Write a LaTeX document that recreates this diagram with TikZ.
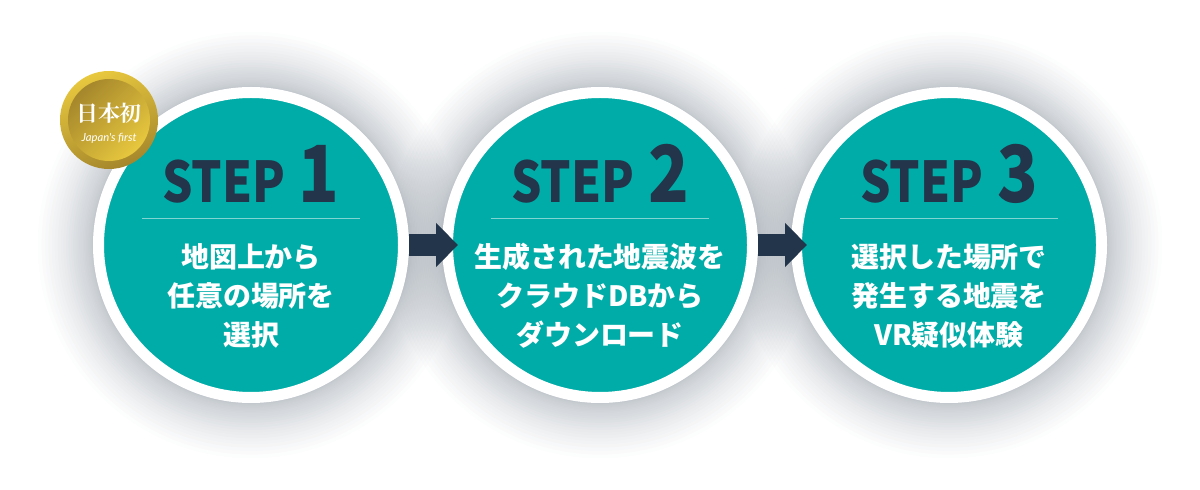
\documentclass[tikz,border=0pt]{standalone}
\usepackage{fontspec}
\setmainfont{Noto Sans CJK JP}
\newfontfamily\serifjp{Noto Serif CJK JP}
\newfontfamily\badgelatin{Lato}
\newfontfamily\titlefont[FakeStretch=0.85]{Noto Sans CJK JP}
\usepackage{tikz}
\usetikzlibrary{positioning,arrows.meta,backgrounds}
\definecolor{stepteal}{HTML}{00ACA8}
\definecolor{stepnavy}{HTML}{22354A}
\definecolor{goldlight}{HTML}{E8C83E}
\definecolor{golddark}{HTML}{A5872C}
\newcommand \stepnum[1] {\hspace{2pt}{\fontsize{56}{56}\selectfont #1}}

\begin{document}
\begin{tikzpicture}[
	stepcircle/.style={draw=white, fill=stepteal, circle, line width=.275cm, minimum size=7.625cm},
	steptitle/.style={anchor=base, text=stepnavy, font=\titlefont\bfseries\fontsize{40}{40}\selectfont},
	steptext/.style={align=center, text=white, font=\bfseries\fontsize{19.9}{27.8}\selectfont},
	steprule/.style={draw=white!50!stepteal, line width=.5pt},
	steparrow/.style={draw=stepnavy, line width=.55cm, shorten >=-.4cm,
		-{Triangle[length=.55cm, width=1.07cm]}},
	halo/.style={fill=stepnavy, opacity=.0115, circle}]
	\useasboundingbox (0,0) rectangle (30,-12.25);
	% Circles
	\node [stepcircle] (step1) at (6.275,-6.125) {};
	\node [stepcircle, right=.825cm of step1] (step2) {};
	\node [stepcircle, right=.825cm of step2] (step3) {};
	% Shadows
	\begin{pgfonlayer}{background}
		\foreach \name in {step1,step2,step3}
			\foreach \t in {1,...,30}
				\node [halo, minimum size={(7.9+.00306*\t*\t)*1cm}] at (\name.center) {};
	\end{pgfonlayer}
	% Titles
	\node [steptitle] (title1) at ([yshift=1.05cm]step1.center) {STEP \stepnum{1}};
	\node [steptitle] (title2) at ([yshift=1.05cm]step2.center) {STEP \stepnum{2}};
	\node [steptitle] (title3) at ([yshift=1.05cm]step3.center) {STEP \stepnum{3}};
	% Rules
	\draw [steprule] ([shift={(-2.725,.675)}]step1.center) coordinate (r1a) -- ([shift={(2.725,.675)}]step1.center) coordinate (r1b);
	\draw [steprule] ([shift={(-2.725,.675)}]step2.center) coordinate (r2a) -- ([shift={(2.725,.675)}]step2.center) coordinate (r2b);
	\draw [steprule] ([shift={(-2.725,.675)}]step3.center) coordinate (r3a) -- ([shift={(2.725,.675)}]step3.center) coordinate (r3b);
	% Texts
	\node [steptext] (text1) at ([yshift=-1.275cm]step1.center) {地図上から\\任意の場所を\\選択};
	\node [steptext] (text2) at ([yshift=-1.275cm]step2.center) {生成された地震波を\\クラウドDBから\\ダウンロード};
	\node [steptext] (text3) at ([yshift=-1.275cm]step3.center) {選択した場所で\\発生する地震を\\VR疑似体験};
	% Arrows
	\draw [steparrow] (step1) -- (step2);
	\draw [steparrow] (step2) -- (step3);
	% Badge
	\node [circle, minimum size=2.45cm, inner sep=0pt, top color=goldlight, bottom color=golddark,
		shading angle=20] (badge) at ([shift={(-3.55,3.125)}]step1.center) {};
	\node [circle, minimum size=2.05cm, inner sep=0pt, top color=golddark, bottom color=goldlight,
		shading angle=45] (badgein) at (badge.center) {};
	\node [text=white, align=center] (badgetext) at ([yshift=-.075cm]badgein.center)
		{{\serifjp\bfseries\fontsize{15.6}{17}\selectfont 日本初}\\[2.3pt]{\badgelatin\itshape\fontsize{8}{8}\selectfont Japan's first}};
\end{tikzpicture}
\end{document}
